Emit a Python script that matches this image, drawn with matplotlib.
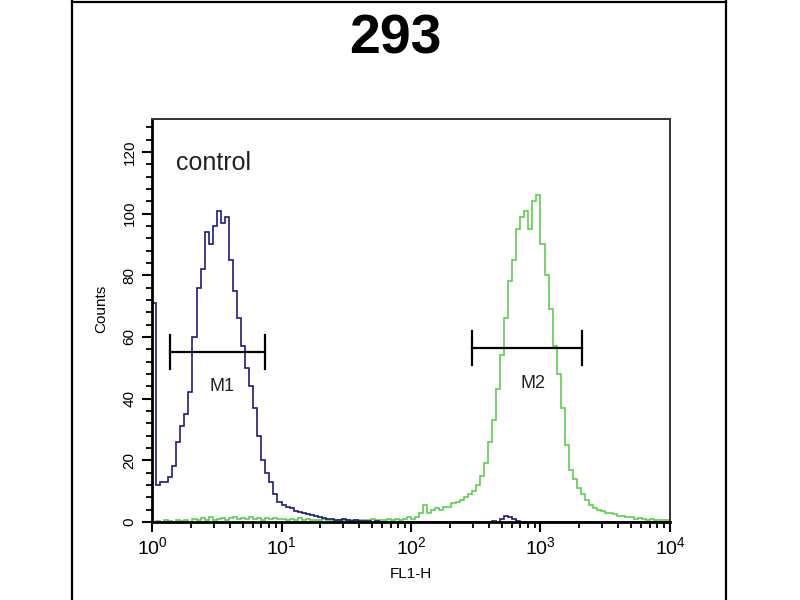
import numpy as np
import matplotlib.pyplot as plt
from matplotlib.lines import Line2D
from matplotlib.ticker import LogLocator, MultipleLocator

plt.rcParams['font.family'] = ['Liberation Sans', 'DejaVu Sans']

# histogram channels: 32 bins per decade over 10^0 .. 10^4
n_bins = 128
edges = np.logspace(0, 4, n_bins + 1)

# control (blue) counts per bin
control = [71, 12, 13, 13, 14.5, 18, 26, 31, 35, 42,
           60, 76, 82, 94, 90, 96, 101, 97, 99, 85,
           75, 66, 57, 50, 44, 37, 28, 20, 16, 13,
           9, 6.5, 5.5, 5, 4.5, 3.5, 3.2, 3, 2.6, 2.4,
           2, 1.6, 1.3, 1.1, 1, 0.8, 0.6, 1, 0.5, 0.4,
           0.6, 0.3, 0.2, 0.3, 0, 0.2, 0, 0, 0.1, 0,
           0, 0, 0, 0, 0, 0, 0, 0, 0, 0,
           0, 0, 0, 0, 0, 0, 0, 0, 0, 0,
           0, 0, 0, 0, 0.3, 0, 1, 2, 1.5, 1,
           0.3, 0, 0, 0, 0, 0, 0, 0, 0, 0,
           0, 0, 0, 0, 0, 0, 0, 0, 0, 0,
           0, 0, 0, 0, 0, 0, 0, 0, 0, 0,
           0, 0, 0, 0, 0, 0, 0, 0]

# antibody-stained sample (green) counts per bin
sample = [0, 0.3, 0, 0.5, 0.2, 0, 0.8, 0.3, 0.5, 0,
          1, 0.5, 1.2, 0.6, 1.5, 0.8, 1, 1.4, 0.7, 1.2,
          1.5, 0.9, 1.3, 1, 1.6, 1.1, 1.4, 0.8, 1.2, 1,
          1.3, 0.9, 1.1, 0.7, 1, 0.8, 1.2, 0.6, 0.9, 0.7,
          0.8, 0.5, 0.9, 0.6, 0.7, 0.4, 0.8, 0.6, 0.5, 0.7,
          0.6, 0.8, 0.5, 0.7, 0.9, 0.6, 0.8, 0.7, 1, 0.8,
          1, 0.8, 1, 1.5, 1, 1.5, 3, 5.5, 3, 4,
          4.5, 4, 5, 5, 6, 6.5, 7, 8, 9, 10,
          12, 15, 19, 26, 33, 43, 54, 66, 78, 85,
          95, 99, 101, 95, 104, 106, 90, 80, 69, 57,
          48, 37, 25, 17, 14, 11, 9, 7, 5.5, 4.5,
          4, 3.5, 3, 3, 2.5, 2, 2, 1.5, 1.5, 1,
          1.2, 1, 0.8, 1, 0.7, 0.8, 0.5, 0.6]

# marker gates
gate_names = ["M1", "M2"]
gate_lo = [1.38, 295]
gate_hi = [7.5, 2090]
gate_y = [55, 56.5]
gate_label_x = [3.45, 880]
gate_label_y = [44, 45]

fig = plt.figure(figsize=(8, 6), dpi=100)
fig.patch.set_facecolor('white')

# outer panel frame
for xs, ys in [([0.09, 0.09], [0, 0.998]), ([0.9075, 0.9075], [0, 0.998]),
               ([0.09, 0.9075], [0.997, 0.997])]:
    fig.add_artist(Line2D(xs, ys, transform=fig.transFigure, color='black', lw=1.6))

ax = fig.add_axes([0.19, 0.13, 0.6475, 0.6717])
ax.stairs(sample, edges, color='#5ccf4f', lw=1.2, baseline=0)
ax.stairs(control, edges, color='#1c1c7a', lw=1.2, baseline=0)

for name, lo, hi, yv, lx, ly in zip(gate_names, gate_lo, gate_hi, gate_y,
                                     gate_label_x, gate_label_y):
    ax.plot([lo, hi], [yv, yv], color='black', lw=1.6)
    ax.plot([lo, lo], [yv - 5.5, yv + 5.5], color='black', lw=1.6)
    ax.plot([hi, hi], [yv - 5.5, yv + 5.5], color='black', lw=1.6)
    ax.text(lx, ly, name, ha='center', va='center', fontsize=13, color='#222222')

ax.text(1.52, 116.5, "control", ha='left', va='center', fontsize=18, color='#222222')

ax.set_xscale('log')
ax.set_xlim(1, 1e4)
ax.set_ylim(0, 130.7)
ax.yaxis.set_major_locator(MultipleLocator(20))
ax.yaxis.set_minor_locator(MultipleLocator(4))
ax.xaxis.set_major_locator(LogLocator(base=10, numticks=10))
ax.xaxis.set_minor_locator(LogLocator(base=10, subs=np.arange(2, 10), numticks=20))

ax.tick_params(axis='both', which='major', direction='out', length=7, width=1.5,
               labelsize=14, colors='black')
ax.tick_params(axis='both', which='minor', direction='out', length=4, width=1.3)
ax.tick_params(axis='y', labelsize=11, pad=4)
for lab in ax.get_yticklabels():
    lab.set_rotation(90)
    lab.set_va('center')

for side in ['left', 'bottom']:
    ax.spines[side].set_linewidth(2)
for side in ['top', 'right']:
    ax.spines[side].set_linewidth(1.4)
    ax.spines[side].set_color('#333333')

ax.set_xlabel("FL1-H", fontsize=11, labelpad=6)
ax.set_ylabel("Counts", fontsize=11)
ax.yaxis.set_label_coords(-0.085, 0.53)
fig.text(0.494, 0.935, "293", ha='center', va='center', fontsize=40, fontweight='bold')

fig.savefig("out.png", dpi=100)
